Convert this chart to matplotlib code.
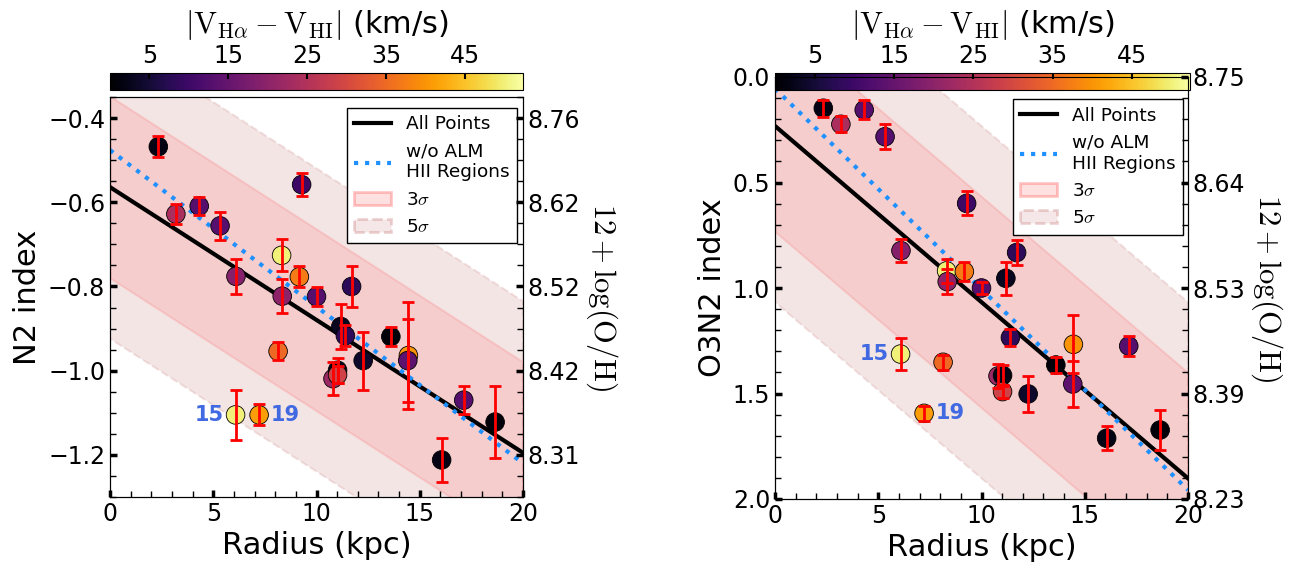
import matplotlib
matplotlib.use('Agg')
import matplotlib.pyplot as plt
import numpy as np
from matplotlib.lines import Line2D
from matplotlib.patches import Patch
from matplotlib.ticker import MultipleLocator, FixedLocator

plt.rcParams['mathtext.fontset'] = 'cm'

# HII regions: radius, |V_Ha - V_HI|, N2 and O3N2 with errors
radius = [2.34, 3.19, 4.32, 5.33, 6.10, 6.08, 7.22, 8.14, 8.31, 8.34, 9.17, 9.28, 10.0,
          10.8, 11.02, 11.02, 11.18, 11.4, 11.7, 12.26, 13.6, 14.45, 14.42, 16.06, 17.13, 18.65]
dvel = [2, 24, 13, 13, 19, 50, 41, 35, 50, 20, 37, 10, 13,
        22, 2, 29, 3, 8, 8, 4, 1, 40, 14, 2, 13, 1]
n2 = [-0.468, -0.628, -0.609, -0.656, -0.776, -1.105, -1.105, -0.954, -0.726, -0.823, -0.777, -0.558, -0.824,
      -1.019, -0.999, -1.010, -0.895, -0.917, -0.800, -0.976, -0.919, -0.964, -0.976, -1.212, -1.070, -1.122]
n2_err = [0.025, 0.024, 0.021, 0.034, 0.041, 0.059, 0.025, 0.021, 0.038, 0.040, 0.025, 0.027, 0.022,
          0.039, 0.030, 0.020, 0.054, 0.025, 0.049, 0.069, 0.022, 0.127, 0.099, 0.052, 0.033, 0.085]
o3n2 = [0.148, 0.224, 0.156, 0.283, 0.823, 1.313, 1.594, 1.352, 0.919, 0.970, 0.922, 0.599, 1.000,
        1.417, 1.414, 1.491, 0.954, 1.235, 0.832, 1.502, 1.365, 1.267, 1.455, 1.712, 1.275, 1.673]
o3n2_err = [0.041, 0.038, 0.045, 0.059, 0.055, 0.077, 0.035, 0.036, 0.055, 0.059, 0.047, 0.057, 0.030,
            0.055, 0.050, 0.032, 0.078, 0.040, 0.059, 0.085, 0.040, 0.137, 0.107, 0.058, 0.046, 0.095]
labelled = {5: '15', 6: '19'}
label_side = {5: -1, 6: 1}

# linear fits (value at R=0, value at R=20) and scatter
n2_fit_all = (-0.564, -1.195)
n2_fit_noalm = (-0.476, -1.220)
n2_sigma = 0.072
o3n2_fit_all = (0.232, 1.902)
o3n2_fit_noalm = (0.055, 1.957)
o3n2_sigma = 0.167

n2_right_labels = ['8.76', '8.62', '8.52', '8.42', '8.31']
n2_ticks = [-0.4, -0.6, -0.8, -1.0, -1.2]
o3n2_right_labels = ['8.75', '8.64', '8.53', '8.39', '8.23']
o3n2_ticks = [0.0, 0.5, 1.0, 1.5, 2.0]

W, H = 1307, 571
def px(x0, y0, x1, y1):
    return [x0 / W, 1 - y1 / H, (x1 - x0) / W, (y1 - y0) / H]

fig = plt.figure(figsize=(13.07, 5.71), dpi=100)
norm = matplotlib.colors.Normalize(vmin=0, vmax=52.3)
cmap = plt.get_cmap('inferno')


def style(ax):
    ax.tick_params(which='major', direction='in', length=5, width=2.5, labelsize=17)
    ax.tick_params(which='minor', direction='in', length=4, width=1)


def panel(ax, cax, y, yerr, fit_all, fit_noalm, sigma, ylim, ticks, minor, rlabels, ylabel, leg_anchor):
    xx = np.array([0, 20])
    yy = np.array(fit_all)
    ax.fill_between(xx, yy - 5 * sigma, yy + 5 * sigma, facecolor='#a52a2a', edgecolor='#a52a2a',
                    alpha=0.12, ls='--', lw=1.5, zorder=0)
    ax.fill_between(xx, yy - 3 * sigma, yy + 3 * sigma, facecolor='red', edgecolor='red',
                    alpha=0.1, lw=1.5, zorder=0)
    ax.plot(xx, yy, color='black', lw=3, zorder=1)
    ax.plot(xx, fit_noalm, color='dodgerblue', lw=3, ls=':', zorder=1)
    ax.scatter(radius, y, c=dvel, cmap=cmap, norm=norm, s=180, edgecolors='black',
               linewidths=0.6, zorder=2)
    ax.errorbar(radius, y, yerr=yerr, fmt='none', ecolor='red', elinewidth=2,
                capsize=4, capthick=2, zorder=3)
    for i, txt in labelled.items():
        ax.annotate(txt, (radius[i], y[i]), xytext=(8.5 * label_side[i], 0), textcoords='offset points',
                    ha='right' if label_side[i] < 0 else 'left', va='center',
                    color='royalblue', fontweight='bold', fontsize=15)
    ax.set_xlim(0, 20)
    ax.set_ylim(*ylim)
    ax.xaxis.set_major_locator(MultipleLocator(5))
    ax.xaxis.set_minor_locator(MultipleLocator(1))
    ax.yaxis.set_major_locator(FixedLocator(ticks))
    ax.yaxis.set_minor_locator(MultipleLocator(minor))
    style(ax)
    ax.set_xlabel('Radius (kpc)', fontsize=22)
    ax.set_ylabel(ylabel, fontsize=22)

    handles = [Line2D([], [], color='black', lw=3),
               Line2D([], [], color='dodgerblue', lw=3, ls=':'),
               Patch(facecolor=(1, 0, 0, 0.12), edgecolor=(1, 0, 0, 0.22), lw=2),
               Patch(facecolor=(0.65, 0.16, 0.16, 0.11), edgecolor=(0.65, 0.16, 0.16, 0.2), lw=2, ls='--')]
    leg = ax.legend(handles, ['All Points', 'w/o ALM\nHII Regions', r'3$\sigma$', r'5$\sigma$'],
                    loc='upper right', bbox_to_anchor=leg_anchor, borderaxespad=0,
                    fontsize=13.3, handlelength=2.0, fancybox=False, framealpha=1,
                    edgecolor='black')
    leg.get_frame().set_linewidth(1)

    tw = ax.twinx()
    tw.set_ylim(*ylim)
    tw.yaxis.set_major_locator(FixedLocator(ticks))
    tw.yaxis.set_minor_locator(MultipleLocator(minor))
    tw.set_yticklabels(rlabels)
    style(tw)
    tw.set_ylabel(r'$12+\log(\mathrm{O/H})$', fontsize=22, rotation=270, labelpad=28)

    cb = fig.colorbar(matplotlib.cm.ScalarMappable(norm=norm, cmap=cmap), cax=cax,
                      orientation='horizontal', ticks=[5, 15, 25, 35, 45])
    cax.xaxis.set_ticks_position('top')
    cax.xaxis.set_label_position('top')
    cax.tick_params(direction='in', length=4, width=1.5, labelsize=17)
    cb.set_label(r'$|\mathrm{V_{H\alpha} - V_{HI}}|$ (km/s)', fontsize=22, labelpad=8)


ax1 = fig.add_axes(px(110, 97, 523, 497))
ax2 = fig.add_axes(px(775, 77, 1188, 499))
cax1 = fig.add_axes(px(110, 73, 523, 90))
cax2 = fig.add_axes(px(775, 73, 1190, 90))

panel(ax1, cax1, n2, n2_err, n2_fit_all, n2_fit_noalm, n2_sigma, (-1.3, -0.35),
      n2_ticks, 0.05, n2_right_labels, 'N2 index', (0.9855, 0.9725))
panel(ax2, cax2, o3n2, o3n2_err, o3n2_fit_all, o3n2_fit_noalm, o3n2_sigma, (2.0, 0.0),
      o3n2_ticks, 0.1, o3n2_right_labels, 'O3N2 index', (0.988, 0.947))

fig.savefig('out.png', dpi=100)
